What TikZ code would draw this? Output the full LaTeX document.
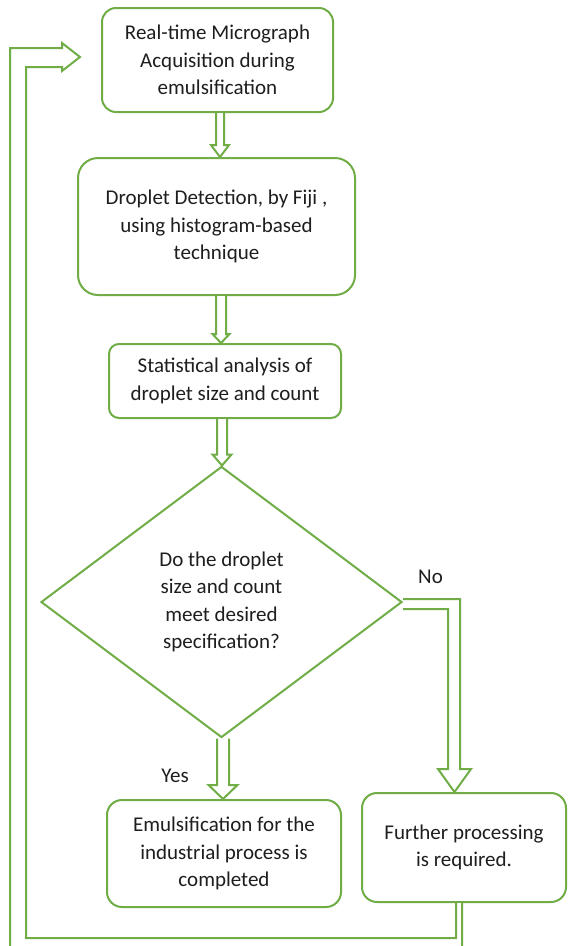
\documentclass[tikz,border=0pt]{standalone}
\usepackage{fontspec}
\setmainfont{Carlito}
\usetikzlibrary{shapes.geometric,calc}
\definecolor{ogreen}{RGB}{112,173,71}
\definecolor{txt}{RGB}{30,30,30}
\newcommand{\vblock}[6]{%
  \filldraw[blockarrow] let \p1=([xshift=#3pt]#1), \p2=(#2) in
   (\x1-#4pt,\y1) -- (\x1-#4pt,\y2+#6pt) -- (\x1-#5pt,\y2+#6pt) -- (\x1,\y2)
   -- (\x1+#5pt,\y2+#6pt) -- (\x1+#4pt,\y2+#6pt) -- (\x1+#4pt,\y1);
}
\begin{document}
\begin{tikzpicture}[x=1pt,y=-1pt,
  box/.style={draw=ogreen, line width=2pt, fill=white, align=center, text=txt,
    font=\fontsize{21}{27.5}\selectfont, inner sep=0pt},
  blockarrow/.style={draw=ogreen, line width=2pt, fill=white, line join=miter},
  lbl/.style={text=txt, font=\fontsize{21}{27.5}\selectfont, inner sep=0pt}]
\useasboundingbox (0,0) rectangle (568,946);
\clip (0,0) rectangle (568,946);
\fill[white] (0,0) rectangle (568,946);

\node[box, rounded corners=14pt, minimum width=231pt, minimum height=104pt] (b1) at (217.5,60)
  {Real-time Micrograph\\Acquisition during\\emulsification};
\node[box, rounded corners=20pt, minimum width=277pt, minimum height=137pt] (b2) at (216.5,226.5)
  {Droplet Detection, by Fiji ,\\using histogram-based\\technique};
\node[box, rounded corners=10pt, minimum width=232pt, minimum height=74pt] (b3) at (225,381)
  {Statistical analysis of\\droplet size and count};
\node[box, diamond, minimum width=361pt, minimum height=271pt] (dia) at (221.5,602)
  {Do the droplet\\size and count\\meet desired\\specification?};
\node[box, rounded corners=15pt, minimum width=234pt, minimum height=107pt] (b4) at (224,853.5)
  {Emulsification for the\\industrial process is\\completed};
\node[box, rounded corners=15pt, minimum width=204pt, minimum height=109pt] (b5) at (464,847.5)
  {Further processing\\is required.};

\node[lbl] (no) at (430.5,577) {No};
\node[lbl] (yes) at (175,776) {Yes};

\coordinate (rtip) at (80,57);

\vblock{b1.south}{b2.north}{2.5}{4}{9}{12}
\vblock{b2.south}{b3.north}{4.5}{5}{8.5}{9}
\vblock{b3.south}{dia.north}{-3}{5}{9.5}{11}
\vblock{dia.south}{b4.north}{1.5}{6}{14.5}{14}

\filldraw[blockarrow] let \p1=(dia.east), \p2=(b5.north) in
  (\x1,\y1+3pt) -- (\x2-4pt,\y1+3pt) -- (\x2-4pt,\y2+23pt) -- (\x2+7pt,\y2+23pt)
  -- (\x2-9.5pt,\y2) -- (\x2-26pt,\y2+23pt) -- (\x2-16pt,\y2+23pt)
  -- (\x2-16pt,\y1-7pt) -- (\x1,\y1-7pt);

\filldraw[blockarrow] let \p1=(b5.south), \p2=(rtip) in
  (\x1-8pt,\y1) -- (\x1-8pt,-938pt) -- (26,938) -- (26,67) -- (\x2-18pt,-67pt)
  -- (\x2-18pt,-71pt) -- (\x2,\y2) -- (\x2-18pt,-43pt) -- (\x2-18pt,-48pt)
  -- (10,48) -- (10,958) -- (\x1-2pt,-958pt) -- (\x1-2pt,\y1);
\end{tikzpicture}
\end{document}
